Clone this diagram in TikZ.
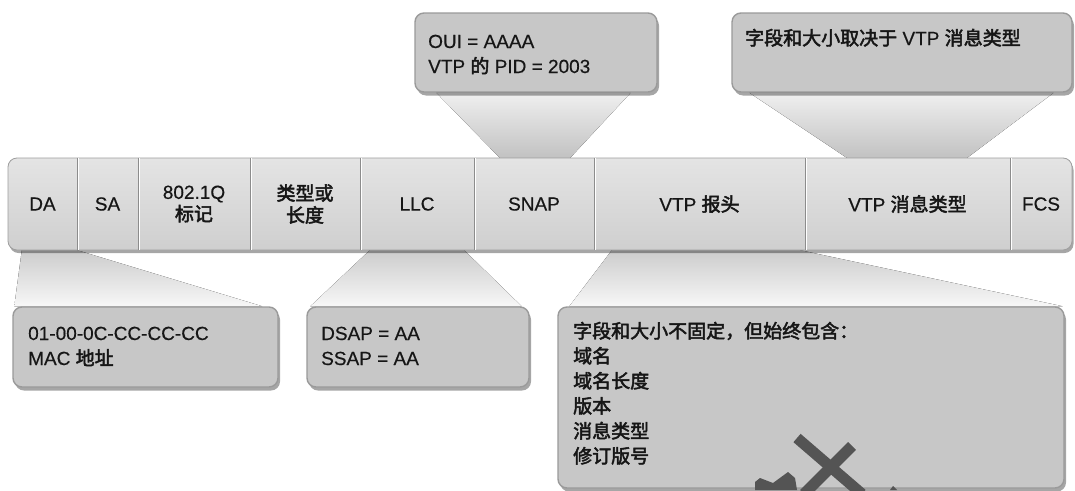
\documentclass[tikz,border=0pt]{standalone}
\usepackage{fontspec}
\setmainfont{Liberation Sans}[FakeBold=0.4]
\newfontfamily\cjk{Noto Sans CJK SC}[FakeBold=2.5]
\usetikzlibrary{calc,shadows,backgrounds}
\definecolor{txt}{HTML}{161616}
\definecolor{bartop}{HTML}{E4E4E4}
\definecolor{barbot}{HTML}{CFCFCF}
\definecolor{barline}{HTML}{9E9E9E}
\definecolor{sepdark}{HTML}{8C8C8C}
\definecolor{cfill}{HTML}{C7C7C7}
\definecolor{cline}{HTML}{9A9A9A}
\definecolor{wm}{HTML}{545454}
\tikzset{
  lbl/.style={font=\fontsize{19}{22}\selectfont, text=txt, inner sep=0pt},
  barbox/.style={draw=barline, line width=0.8pt, rounded corners=9pt, top color=bartop, bottom color=barbot,
    drop shadow={shadow xshift=1.5pt, shadow yshift=-3pt, opacity=0.35, fill=black}},
  cell/.style={lbl, minimum height=92pt, align=center},
  sepline/.style={draw=sepdark, line width=0.7pt},
  sephi/.style={draw=white, line width=0.7pt},
  callout/.style={draw=cline, line width=1.4pt, fill=cfill, rounded corners=9pt, inner sep=0pt,
    drop shadow={shadow xshift=2pt, shadow yshift=-3.5pt, opacity=0.35, fill=black}},
  ln/.style={lbl, anchor=base west},
  beamup/.style={top color=gray!12, bottom color=gray!48},
  beamdown/.style={top color=gray!40, bottom color=gray!6},
  wmark/.style={draw=wm, line width=11pt},
}
\begin{document}
\begin{tikzpicture}[x=1pt,y=-1pt]
\path[use as bounding box, clip] (0,0) rectangle (1075,490);

% frame bar
\node[barbox, minimum width=1064pt, minimum height=92pt] (bar) at (540,204) {};
\node[cell, minimum width=69pt]  (da)   at (42.5,204) {DA};
\node[cell, minimum width=61pt]  (sa)   at (107.5,204) {SA};
\node[cell, minimum width=112pt] (tag)  at (194,204) {802.1Q\\{\cjk 标记}};
\node[cell, minimum width=110pt] (typ)  at (305,204) {{\cjk 类型或}\\{\cjk 长度}};
\node[cell, minimum width=114pt] (llc)  at (417,204) {LLC};
\node[cell, minimum width=120pt] (snap) at (534,204) {SNAP};
\node[cell, minimum width=211pt] (hdr)  at (699.5,204) {VTP {\cjk 报头}};
\node[cell, minimum width=205pt] (msg)  at (907.5,204) {VTP {\cjk 消息类型}};
\node[cell, minimum width=62pt]  (fcs)  at (1041,204) {FCS};
\foreach \c in {da,sa,tag,typ,llc,snap,hdr,msg}{
  \draw[sepline] (\c.north east) -- (\c.south east);
  \draw[sephi] ([xshift=1pt]\c.north east) -- ([xshift=1pt]\c.south east);
}

% callout boxes
\node[callout, minimum width=242pt, minimum height=79pt] (cs) at (536,52.5) {};
\node[callout, minimum width=340pt, minimum height=79pt] (cv) at (902,52.5) {};
\node[callout, minimum width=265pt, minimum height=80pt] (cd) at (145.5,347) {};
\node[callout, minimum width=222pt, minimum height=80pt] (cl) at (418,347) {};
\node[callout, minimum width=506pt, minimum height=181pt] (ch) at (811,397.5) {};

% beams
\begin{scope}[on background layer]
\fill[white] (0,0) rectangle (1075,490);
\fill[beamup] ($(cs.south west)+(22,0)$) -- ($(cs.south east)+(-27,0)$) -- ($(snap.north east)+(-24,0)$) -- ($(snap.north west)+(26,0)$) -- cycle;
\fill[beamup] ($(cv.south west)+(18,0)$) -- ($(cv.south east)+(-19,0)$) -- ($(msg.north east)+(-43,0)$) -- ($(msg.north west)+(42,0)$) -- cycle;
\fill[beamdown] ($(da.south west)+(14,0)$) -- (da.south east) -- ($(cd.north west)+(250,0)$) -- ($(cd.north west)+(2,0)$) -- cycle;
\fill[beamdown] ($(llc.south west)+(10,0)$) -- ($(llc.south east)+(-10,0)$) -- ($(cl.north east)+(-8,0)$) -- ($(cl.north west)+(4,0)$) -- cycle;
\fill[beamdown] ($(hdr.south west)+(18,0)$) -- ($(hdr.south east)+(-5,0)$) -- ($(ch.north east)+(-2,0)$) -- ($(ch.north west)+(12,0)$) -- cycle;
\end{scope}

% callout texts
\node[ln] (s1) at (428,48) {OUI = AAAA};
\node[ln] (s2) at (428,73) {VTP {\cjk 的} PID = 2003};
\node[ln] (v1) at (745,45) {{\cjk 字段和大小取决于} VTP {\cjk 消息类型}};
\node[ln] (d1) at (28,340) {01-00-0C-CC-CC-CC};
\node[ln] (d2) at (28,365) {MAC {\cjk 地址}};
\node[ln] (l1) at (321,340) {DSAP = AA};
\node[ln] (l2) at (321,365) {SSAP = AA};
\node[ln] (h1) at (573,338) {\cjk 字段和大小不固定，但始终包含：};
\node[ln] (h2) at (573,363) {\cjk 域名};
\node[ln] (h3) at (573,388) {\cjk 域名长度};
\node[ln] (h4) at (573,413) {\cjk 版本};
\node[ln] (h5) at (573,438) {\cjk 消息类型};
\node[ln] (h6) at (573,463) {\cjk 修订版号};

% watermark fragment
\draw[wmark] (797,438) -- (862,494);
\draw[wmark] (852,446) -- (804,494);
\fill[wm] (755,490) -- (755,482) -- (760,478) -- (773,483) -- (788,472) -- (795,478) -- (797,490) -- cycle;
\fill[wm] (890,490) -- (893,486) -- (897,490) -- cycle;
\end{tikzpicture}
\end{document}
